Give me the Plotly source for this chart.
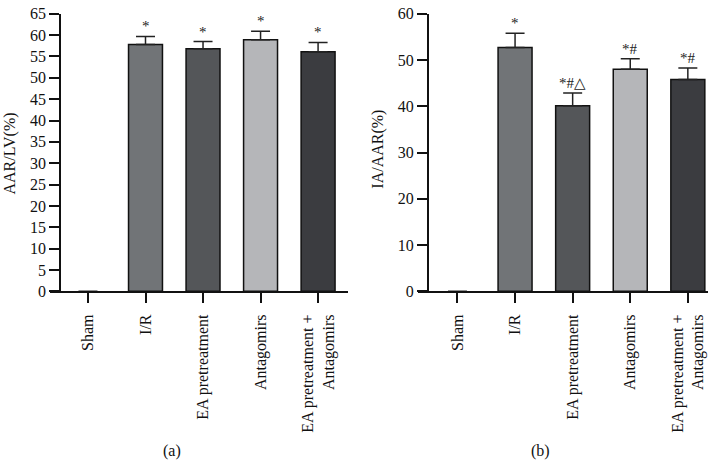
import plotly.graph_objects as go

categories = ["Sham", "I/R", "EA pretreatment", "Antagomirs", "EA pretreatment +<br>Antagomirs"]
aar_lv = [0, 57.8, 56.8, 58.9, 56.1]
aar_lv_err = [0, 1.9, 1.7, 2.0, 2.2]
ia_aar = [0, 52.7, 40.1, 48.0, 45.8]
ia_aar_err = [0, 3.1, 2.8, 2.3, 2.5]
sig_a = ["", "*", "*", "*", "*"]
sig_b = ["", "*", "*#△", "*#", "*#"]
colors = ["#ffffff", "#717477", "#545659", "#b5b6b9", "#3b3c40"]
outline_w = [0, 1.5, 1.5, 1.5, 1.5]

W, H = 717, 468
FONT = "Liberation Serif"


def px(x):
    return x / W


def py(y):
    return (H - y) / H


xs = list(range(len(categories)))

fig = go.Figure()
fig.add_trace(go.Bar(
    x=xs, y=aar_lv, width=0.59,
    marker=dict(color=colors, line=dict(color="#111111", width=outline_w)),
    error_y=dict(type="data", symmetric=False, array=aar_lv_err, arrayminus=[0] * 5,
                 color="#222222", thickness=1.5, width=9.5),
    xaxis="x", yaxis="y", showlegend=False, hoverinfo="skip",
))
fig.add_trace(go.Bar(
    x=xs, y=ia_aar, width=0.59,
    marker=dict(color=colors, line=dict(color="#111111", width=outline_w)),
    error_y=dict(type="data", symmetric=False, array=ia_aar_err, arrayminus=[0] * 5,
                 color="#222222", thickness=1.5, width=9.5),
    xaxis="x2", yaxis="y2", showlegend=False, hoverinfo="skip",
))

common_x = dict(
    tickmode="array", tickvals=xs, ticktext=categories, tickangle=-90,
    showline=True, linecolor="#111111", linewidth=1.5,
    ticks="outside", ticklen=10, tickwidth=1.5, tickcolor="#111111",
    ticklabelstandoff=5,
    showgrid=False, zeroline=False,
    tickfont=dict(family=FONT, size=16, color="#111111"),
    fixedrange=True,
)
common_y = dict(
    showline=True, linecolor="#111111", linewidth=1.5,
    ticks="outside", ticklen=10, tickwidth=1.5, tickcolor="#111111",
    ticklabeloverflow="allow",
    showgrid=False, zeroline=False,
    tickfont=dict(family=FONT, size=16, color="#111111"),
    fixedrange=True,
)

fig.update_layout(
    width=W, height=H,
    margin=dict(l=0, r=0, t=0, b=0),
    paper_bgcolor="white", plot_bgcolor="white",
    font=dict(family=FONT, color="#111111"),
    xaxis=dict(domain=[px(50), px(348)], range=[-0.66, 4.52], anchor="y", **common_x),
    yaxis=dict(domain=[py(294), py(6)], range=[0, 65], dtick=5, anchor="free",
               position=px(60), **common_y),
    xaxis2=dict(domain=[px(418.3), px(708)], range=[-0.68, 4.35], anchor="y2", **common_x),
    yaxis2=dict(domain=[py(294), py(6)], range=[0, 60], dtick=10, anchor="free",
                position=px(427.7), **common_y),
)

ann = []
for i in xs:
    if sig_a[i]:
        ann.append(dict(x=i, y=aar_lv[i] + aar_lv_err[i], xref="x", yref="y",
                        text=sig_a[i], showarrow=False, yanchor="bottom", yshift=0,
                        font=dict(family=FONT, size=15, color="#222222")))
    if sig_b[i]:
        ann.append(dict(x=i, y=ia_aar[i] + ia_aar_err[i], xref="x2", yref="y2",
                        text=sig_b[i], showarrow=False, yanchor="bottom", yshift=0,
                        font=dict(family=FONT, size=15, color="#222222")))

ann.append(dict(x=px(10), y=py(151), xref="paper", yref="paper", text="AAR/LV(%)",
                textangle=-90, showarrow=False, xanchor="center", yanchor="middle",
                font=dict(family=FONT, size=16, color="#111111")))
ann.append(dict(x=px(378), y=py(147), xref="paper", yref="paper", text="IA/AAR(%)",
                textangle=-90, showarrow=False, xanchor="center", yanchor="middle",
                font=dict(family=FONT, size=16, color="#111111")))
ann.append(dict(x=px(171.7), y=py(460), xref="paper", yref="paper", text="(a)",
                showarrow=False, xanchor="center", yanchor="middle",
                font=dict(family=FONT, size=16, color="#111111")))
ann.append(dict(x=px(540), y=py(460), xref="paper", yref="paper", text="(b)",
                showarrow=False, xanchor="center", yanchor="middle",
                font=dict(family=FONT, size=16, color="#111111")))
fig.update_layout(annotations=ann)

fig.write_html("out.html", config={"displayModeBar": False},
               post_script="document.body.style.margin='0px';")
